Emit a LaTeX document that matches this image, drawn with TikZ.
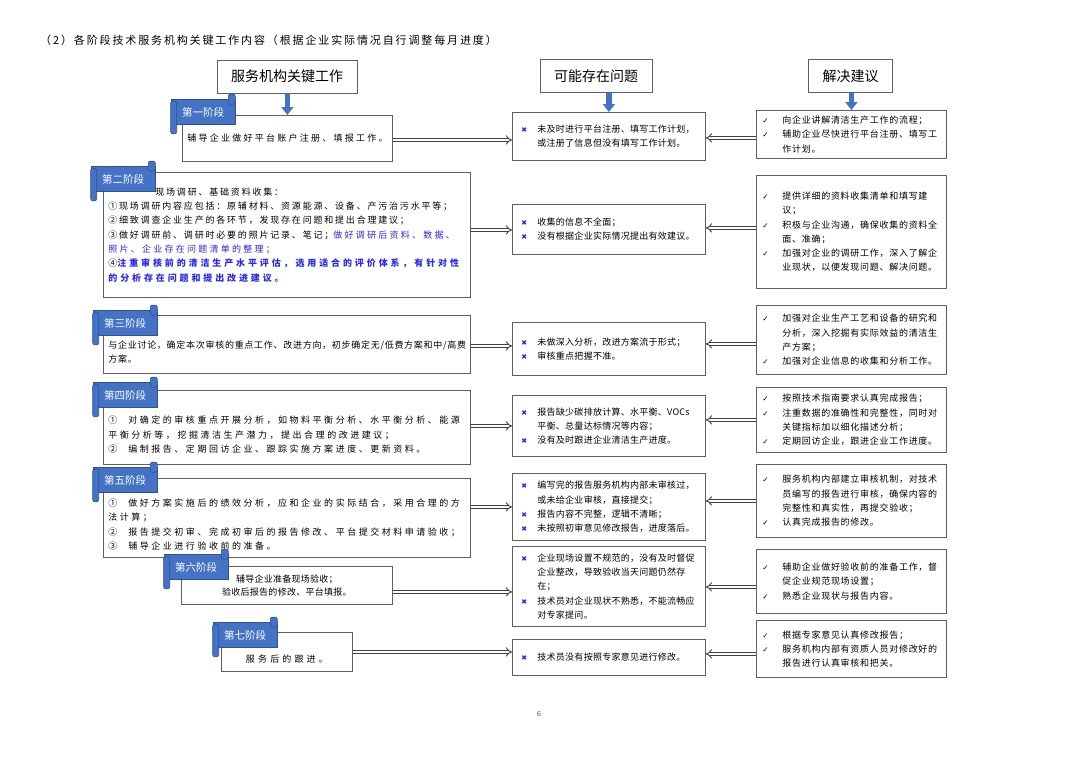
\documentclass[tikz,border=0pt]{standalone}
\usepackage{fontspec}
\setmainfont{Noto Sans CJK SC}
\newfontfamily\symfont{DejaVu Sans}
\newfontfamily\lsN[LetterSpace=3]{Noto Sans CJK SC}
\newfontfamily\lsT[LetterSpace=8]{Noto Sans CJK SC}
\newfontfamily\lsR[LetterSpace=8]{Noto Sans CJK SC}
\newfontfamily\lsH[LetterSpace=17]{Noto Sans CJK SC}
\newfontfamily\lsM[LetterSpace=20]{Noto Sans CJK SC}
\newfontfamily\lsW[LetterSpace=25]{Noto Sans CJK SC}
\newfontfamily\lsX[LetterSpace=28]{Noto Sans CJK SC}
\newfontfamily\lsZ[LetterSpace=32]{Noto Sans CJK SC}
\newfontfamily\lsY[LetterSpace=35]{Noto Sans CJK SC}
\usepackage{tikz}
\usetikzlibrary{arrows.meta}
\setlength{\parindent}{0pt}
\setlength{\parskip}{0pt}

\definecolor{bannerblue}{RGB}{68,114,196}
\definecolor{bannerdark}{RGB}{47,82,143}
\definecolor{noteblue}{RGB}{40,40,235}
\definecolor{boxgray}{RGB}{95,95,95}

\newcommand{\xm}{\makebox[16pt][l]{\symfont\fontsize{7}{7}\selectfont\color{noteblue}✖}}
\newcommand{\xin}{\hspace*{16pt}}
\newcommand{\ck}{\makebox[20pt][l]{\symfont\fontsize{7.5}{7.5}\selectfont ✓}}
\newcommand{\cin}{\hspace*{20pt}}
\newcommand{\upgap}[1]{\rule{0pt}{#1}}

\tikzset{
  hdbox/.style={draw=boxgray, line width=0.8pt, font=\fontsize{14}{16}\selectfont, inner xsep=14pt, minimum height=33pt},
  workbox/.style={draw=boxgray, line width=0.8pt, anchor=north west, inner ysep=0pt},
  stagebox/.style={workbox, align=left, inner xsep=5pt, text width=357pt},
  issuebox/.style={workbox, align=left, inner xsep=9pt, text width=175pt, font=\lsN\fontsize{9}{14.2}\selectfont},
  tipbox/.style={workbox, align=left, inner xsep=6pt, text width=178pt, font=\lsR\fontsize{9}{14.3}\selectfont},
  banner/.style={fill=bannerblue, draw=bannerdark, line width=0.6pt, text=white, font=\fontsize{10.5}{12}\selectfont, minimum width=64pt, minimum height=25pt, inner sep=0pt},
  roll/.style={fill=bannerblue, draw=bannerdark, line width=0.6pt, rounded corners=2pt},
  hdarrow/.style={draw=bannerblue, line width=5.5pt, -{Triangle[width=12pt,length=8pt]}},
  dblarrow/.style={draw=black!75, double=white, double distance=2.2pt, line width=0.9pt, -{Implies}}
}

\begin{document}
\begin{tikzpicture}[x=1pt, y=-1pt]
\useasboundingbox (0,0) rectangle (1080,764);

% title and column heads
\node[anchor=west, inner sep=0pt, font=\lsH\fontsize{11}{13}\selectfont] (title) at (40,40) {（2）各阶段技术服务机构关键工作内容（根据企业实际情况自行调整每月进度）};
\node[hdbox] (h1) at (287,76.5) {服务机构关键工作};
\node[hdbox] (h2) at (596,76) {可能存在问题};
\node[hdbox] (h3) at (850.5,76) {解决建议};

% service work, stage by stage
\node[workbox, align=center, inner xsep=4pt, text width=202pt, minimum height=46pt, font=\lsW\fontsize{9}{14}\selectfont] (s1) at (182,115) {辅导企业做好平台账户注册、填报工作。};
\node[stagebox, minimum height=125pt, font=\lsM\fontsize{9}{14.3}\selectfont] (s2) at (103,172) {\hspace*{47pt}现场调研、基础资料收集：\\
①现场调研内容应包括：原辅材料、资源能源、设备、产污治污水平等；\\
②细致调查企业生产的各环节，发现存在问题和提出合理建议；\\
③做好调研前、调研时必要的照片记录、笔记；{\color{noteblue}\lsW 做好调研后资料、数据、}\\
{\color{noteblue}\lsW 照片、企业存在问题清单的整理；}\\
④{\color{noteblue}\lsZ\bfseries 注重审核前的清洁生产水平评估，选用适合的评价体系，有针对性}\\
{\color{noteblue}\lsZ\bfseries 的分析存在问题和提出改进建议。}};
\node[stagebox, minimum height=58pt, font=\lsT\fontsize{9}{14.5}\selectfont] (s3) at (103,315) {\upgap{23pt}与企业讨论，确定本次审核的重点工作、改进方向，初步确定无/低费方案和中/高费\\方案。};
\node[stagebox, minimum height=74pt, font=\lsX\fontsize{9}{14.2}\selectfont] (s4) at (103,390) {\upgap{22pt}①\hspace{11pt}对确定的审核重点开展分析，如物料平衡分析、水平衡分析、能源\\
平衡分析等，挖掘清洁生产潜力，提出合理的改进建议；\\
②\hspace{11pt}编制报告、定期回访企业、跟踪实施方案进度、更新资料。};
\node[stagebox, minimum height=79pt, font=\lsX\fontsize{9}{14.3}\selectfont] (s5) at (103,478) {\upgap{21pt}①\hspace{11pt}做好方案实施后的绩效分析，应和企业的实际结合，采用合理的方\\
法计算；\\
②\hspace{11pt}报告提交初审、完成初审后的报告修改、平台提交材料申请验收；\\
③\hspace{11pt}辅导企业进行验收前的准备。};
\node[workbox, align=center, inner xsep=4pt, text width=203pt, minimum height=38pt, font=\lsN\fontsize{9}{13.5}\selectfont] (s6) at (181,566) {辅导企业准备现场验收；\\验收后报告的修改、平台填报。};
\node[workbox, align=center, inner xsep=4pt, text width=123pt, minimum height=39pt, font=\lsY\fontsize{9}{14}\selectfont] (s7) at (221,632) {\upgap{21pt}服务后的跟进。};

% possible problems
\node[issuebox, minimum height=48pt] (m1) at (512,112) {\xm 未及时进行平台注册、填写工作计划，\\ \xin 或注册了信息但没有填写工作计划。};
\node[issuebox, minimum height=50pt] (m2) at (512,204) {\xm 收集的信息不全面；\\ \xm 没有根据企业实际情况提出有效建议。};
\node[issuebox, minimum height=53pt] (m3) at (512,322) {\xm 未做深入分析，改进方案流于形式；\\ \xm 审核重点把握不准。};
\node[issuebox, minimum height=61pt] (m4) at (512,395) {\xm 报告缺少碳排放计算、水平衡、VOCs\\ \xin 平衡、总量达标情况等内容；\\ \xm 没有及时跟进企业清洁生产进度。};
\node[issuebox, minimum height=67pt] (m5) at (512,473) {\xm 编写完的报告服务机构内部未审核过，\\ \xin 或未给企业审核，直接提交；\\ \xm 报告内容不完整，逻辑不清晰；\\ \xm 未按照初审意见修改报告，进度落后。};
\node[issuebox, minimum height=80pt] (m6) at (512,546) {\xm 企业现场设置不规范的，没有及时督促\\ \xin 企业整改，导致验收当天问题仍然存\\ \xin 在；\\ \xm 技术员对企业现状不熟悉，不能流畅应\\ \xin 对专家提问。};
\node[issuebox, minimum height=36pt] (m7) at (512,639) {\xm 技术员没有按照专家意见进行修改。};

% suggestions
\node[tipbox, minimum height=48pt] (r1) at (756,110) {\ck 向企业讲解清洁生产工作的流程；\\ \ck 辅助企业尽快进行平台注册、填写工\\ \cin 作计划。};
\node[tipbox, minimum height=113pt] (r2) at (756,175) {\ck 提供详细的资料收集清单和填写建\\ \cin 议；\\ \ck 积极与企业沟通，确保收集的资料全\\ \cin 面、准确；\\ \ck 加强对企业的调研工作，深入了解企\\ \cin 业现状，以便发现问题、解决问题。};
\node[tipbox, minimum height=69pt] (r3) at (756,305) {\ck 加强对企业生产工艺和设备的研究和\\ \cin 分析，深入挖掘有实际效益的清洁生\\ \cin 产方案；\\ \ck 加强对企业信息的收集和分析工作。};
\node[tipbox, minimum height=65pt] (r4) at (756,387) {\ck 按照技术指南要求认真完成报告；\\ \ck 注重数据的准确性和完整性，同时对\\ \cin 关键指标加以细化描述分析；\\ \ck 定期回访企业，跟进企业工作进度。};
\node[tipbox, minimum height=73pt] (r5) at (756,464) {\ck 服务机构内部建立审核机制，对技术\\ \cin 员编写的报告进行审核，确保内容的\\ \cin 完整性和真实性，再提交验收；\\ \ck 认真完成报告的修改。};
\node[tipbox, minimum height=64pt] (r6) at (756,549) {\ck 辅助企业做好验收前的准备工作，督\\ \cin 促企业规范现场设置；\\ \ck 熟悉企业现状与报告内容。};
\node[tipbox, minimum height=57pt] (r7) at (756,620) {\ck 根据专家意见认真修改报告；\\ \ck 服务机构内部有资质人员对修改好的\\ \cin 报告进行认真审核和把关。};

% stage banners
\node[banner] (b1) at (203,112) {第一阶段};
\node[banner] (b2) at (123,179) {第二阶段};
\node[banner] (b3) at (125,323) {第三阶段};
\node[banner] (b4) at (125,395) {第四阶段};
\node[banner] (b5) at (125,480) {第五阶段};
\node[banner] (b6) at (196,567) {第六阶段};
\node[banner] (b7) at (245,635) {第七阶段};
\foreach \b in {b1,b2,b3,b4,b5,b6,b7}{
  \filldraw[roll] ([yshift=-2pt]\b.north west) rectangle ([xshift=6pt,yshift=-9pt]\b.south west);
  \filldraw[roll] ([xshift=-7pt,yshift=5pt]\b.north east) rectangle ([yshift=-5pt]\b.north east);
}

% arrows
\draw[hdarrow] (s1.north |- h1.south) -- (s1.north);
\draw[hdarrow] (m1.north |- h2.south) -- (m1.north);
\draw[hdarrow] (r1.north |- h3.south) -- (r1.north);

\coordinate (a1) at ([yshift=-1.5pt]s1.east);
\coordinate (a2) at ([yshift=-0.5pt]m2.west);
\coordinate (a3) at ([yshift=-1.5pt]s3.east);
\coordinate (a6) at ([yshift=-6.5pt]s6.east);
\draw[dblarrow] (a1) -- (a1 -| m1.west);
\draw[dblarrow] (s2.east |- a2) -- (a2);
\draw[dblarrow] (a3) -- (a3 -| m3.west);
\draw[dblarrow] (s4.east |- m4.west) -- (m4.west);
\draw[dblarrow] (s5.east |- m5.west) -- (m5.west);
\draw[dblarrow] (a6) -- (a6 -| m6.west);
\draw[dblarrow] (s7.east) -- (s7.east -| m7.west);

\coordinate (c1) at ([yshift=-1.5pt]m1.east);
\coordinate (c2) at ([yshift=1.5pt]m2.east);
\coordinate (c3) at ([yshift=-4pt]r3.west);
\coordinate (c6) at ([yshift=-0.5pt]m6.east);
\coordinate (c7) at ([yshift=-5pt]r7.west);
\draw[dblarrow] (r1.west |- c1) -- (c1);
\draw[dblarrow] (r2.west |- c2) -- (c2);
\draw[dblarrow] (c3) -- (c3 -| m3.east);
\draw[dblarrow] (r4.west) -- (r4.west -| m4.east);
\draw[dblarrow] (r5.west) -- (r5.west -| m5.east);
\draw[dblarrow] (r6.west |- c6) -- (c6);
\draw[dblarrow] (c7) -- (c7 -| m7.east);

\node[font=\fontsize{7}{7}\selectfont, text=black!70] (pagenum) at (539,714) {6};
\end{tikzpicture}
\end{document}
